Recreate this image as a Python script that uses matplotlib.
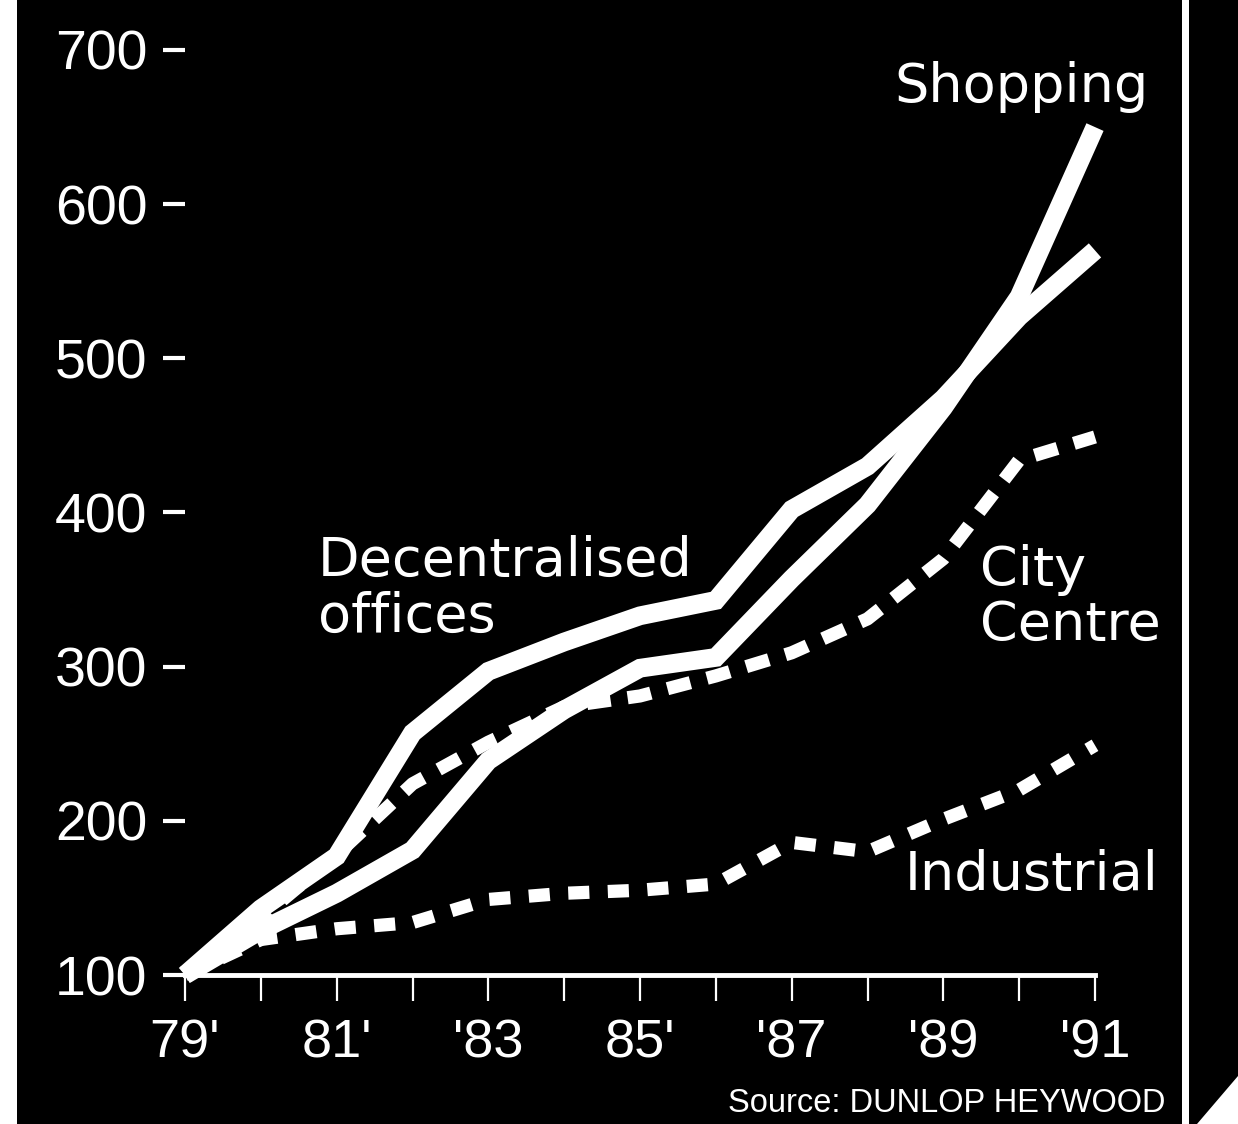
import matplotlib
matplotlib.use("Agg")
import matplotlib.pyplot as plt
from matplotlib.patches import Rectangle, Polygon

# ---- data (index, 1979 = 100) ----
years = list(range(1979, 1992))
decentralised = [100, 143, 177, 257, 297, 316, 333, 343, 402, 430, 474, 527, 570]
shopping = [100, 129, 153, 181, 239, 272, 299, 306, 357, 405, 468, 540, 650]
city_centre = [100, 137, 178, 224, 251, 274, 281, 294, 309, 331, 370, 434, 449]
industrial = [100, 123, 130, 134, 149, 153, 155, 159, 186, 180, 201, 220, 249]

xtick_labels = ["79'", "", "81'", "", "'83", "", "85'", "", "'87", "", "'89", "", "'91"]
ytick_values = [100, 200, 300, 400, 500, 600, 700]

W, H = 1238, 1124
fig = plt.figure(figsize=(W / 100, H / 100), dpi=100, facecolor="black")

# decorative frame pieces of the clipping
fig.patches.append(Rectangle((0, 0), 17 / W, 1, transform=fig.transFigure,
                             facecolor="white", edgecolor="none"))
fig.patches.append(Rectangle((1182 / W, 0), 7 / W, 1, transform=fig.transFigure,
                             facecolor="white", edgecolor="none"))
fig.patches.append(Polygon([(1197 / W, 0), (1, 0), (1, 48 / H)], closed=True,
                           transform=fig.transFigure, facecolor="white", edgecolor="none"))

ax = fig.add_axes([185 / W, 1 - 975 / H, 910 / W, 925 / H])
ax.set_facecolor("black")
ax.set_xlim(1979, 1991)
ax.set_ylim(100, 700)

dash_kw = dict(color="white", lw=9.5, dash_capstyle="butt", solid_joinstyle="miter",
               clip_on=False, zorder=2)
ax.plot(years, city_centre, dashes=(1.8, 1.3), **dash_kw)
ax.plot(years, industrial, dashes=(1.6, 1.4), **dash_kw)

solid_kw = dict(color="white", lw=13.5, solid_capstyle="butt", solid_joinstyle="miter",
                clip_on=False, zorder=3)
ax.plot(years, decentralised, **solid_kw)
ax.plot(years, shopping, **solid_kw)

for s in ["left", "top", "right"]:
    ax.spines[s].set_visible(False)
ax.spines["bottom"].set_color("white")
ax.spines["bottom"].set_linewidth(3.5)
ax.spines["bottom"].set_zorder(1)

ax.set_xticks(years)
ax.set_xticklabels(xtick_labels)
ax.set_yticks(ytick_values)
ax.set_yticklabels([str(v) for v in ytick_values])

ax.tick_params(axis="x", colors="white", direction="out", length=19, width=1.6, pad=12)
ax.tick_params(axis="y", colors="white", direction="out", length=16, width=3, pad=11)
for lab in ax.get_xticklabels():
    lab.set_fontfamily("Liberation Sans")
    lab.set_fontsize(39)
for lab in ax.get_yticklabels():
    lab.set_fontfamily("Liberation Sans")
    lab.set_fontsize(40)

lab_kw = dict(color="white", fontsize=39, family="DejaVu Sans", ha="left", va="baseline")
ax.text(1988.36, 666.3, "Shopping", **lab_kw)
ax.text(1980.75, 358.8, "Decentralised", **lab_kw)
ax.text(1980.75, 322.5, "offices", **lab_kw)
ax.text(1989.48, 353.0, "City", **lab_kw)
ax.text(1989.48, 317.3, "Centre", **lab_kw)
ax.text(1988.49, 155.1, "Industrial", **lab_kw)

fig.text(1166 / W, 1 - 1112 / H, "Source: DUNLOP HEYWOOD", color="white",
         fontsize=23.5, family="Liberation Sans", ha="right", va="baseline")

fig.savefig("out.png", dpi=100, facecolor="black")
